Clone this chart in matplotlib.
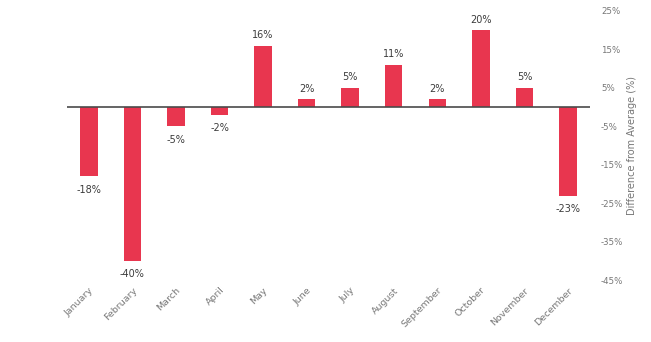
import matplotlib
matplotlib.use('Agg')
import matplotlib.pyplot as plt

months = ["January", "February", "March", "April", "May", "June",
          "July", "August", "September", "October", "November", "December"]
diff_pct = [-18, -40, -5, -2, 16, 2, 5, 11, 2, 20, 5, -23]
y_ticks = [25, 15, 5, -5, -15, -25, -35, -45]

BAR = "#e8364f"
TEXT = "#3c3c3c"
TICK = "#777777"

plt.rcParams['font.family'] = ['DejaVu Sans']

fig = plt.figure(figsize=(6.51, 3.42), dpi=100, facecolor="white")
ax = fig.add_axes([0.103, 0.181, 0.803, 0.787])

x = list(range(len(months)))
ax.bar(x, diff_pct, width=0.4, color=BAR, zorder=2)
ax.axhline(0, color="#4a4a4a", linewidth=1.2, zorder=3)

# value labels: above positive bars, below negative ones
for xi, v in zip(x, diff_pct):
    if v >= 0:
        ax.annotate(f"{v}%", (xi, v), xytext=(0, 4), textcoords="offset points",
                    ha="center", va="bottom", fontsize=7, color=TEXT)
    else:
        ax.annotate(f"-{abs(v)}%", (xi, v), xytext=(0, -6), textcoords="offset points",
                    ha="center", va="top", fontsize=7, color=TEXT)

ax.set_xlim(-0.5, 11.5)
ax.set_ylim(-45, 25)
ax.set_xticks(x)
ax.set_xticklabels(months, rotation=45, ha="right", rotation_mode="anchor",
                   fontsize=6.8, color=TICK)
ax.yaxis.tick_right()
ax.set_yticks(y_ticks)
ax.set_yticklabels([f"{t}%" for t in y_ticks], fontsize=6.2, color=TICK)
ax.yaxis.set_label_position("right")
ax.set_ylabel("Difference from Average (%)", fontsize=7, color=TICK, labelpad=3)
ax.tick_params(axis="both", length=0)
ax.tick_params(axis="y", pad=8)
ax.tick_params(axis="x", pad=4)
for s in ax.spines.values():
    s.set_visible(False)

fig.savefig("out.png", dpi=100, facecolor="white")
